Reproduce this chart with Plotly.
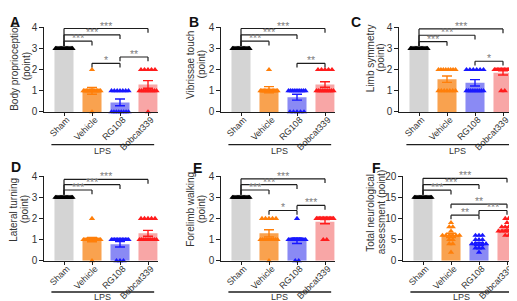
import numpy as np
import plotly.graph_objects as go

W, H = 517, 301
groups = ["Sham", "Vehicle", "RG108", "Bobcat339"]
bar_colors = ["#d4d4d4", "#f9a24f", "#8a8af4", "#f8a6a6"]
pt_colors = ["#000000", "#ff7f0a", "#1818ff", "#ff1c1c"]

# ---------- A: Body proprioception ----------
A_mean = [3.0, 1.0, 0.45, 1.3]
A_sem = [0.0, 0.16, 0.16, 0.18]
A_sham = [3, 3, 3, 3, 3, 3, 3, 3, 3, 3, 3, 3, 3, 3, 3]
A_vehicle = [2, 1, 1, 1, 1, 1, 1, 1, 1, 1, 1, 1, 1, 1, 0]
A_rg108 = [1, 1, 1, 1, 1, 1, 1, 0, 0, 0, 0, 0, 0, 0, 0]
A_bobcat = [2, 2, 2, 2, 2, 1, 1, 1, 1, 1, 1, 1, 1, 1, 0]
A_sig = [(0, 3, 3.95, "***"), (0, 2, 3.65, "***"), (0, 1, 3.35, "***"),
         (1, 2, 2.3, "*"), (2, 3, 2.6, "**")]

# ---------- B: Vibrissae touch ----------
B_mean = [3.0, 1.05, 0.7, 1.3]
B_sem = [0.0, 0.15, 0.14, 0.13]
B_sham = [3, 3, 3, 3, 3, 3, 3, 3, 3, 3, 3, 3, 3, 3, 3]
B_vehicle = [2, 1, 1, 1, 1, 1, 1, 1, 1, 1, 1, 1, 1, 1, 1]
B_rg108 = [1, 1, 1, 1, 1, 1, 1, 1, 1, 1, 0, 0, 0, 0, 0]
B_bobcat = [2, 2, 2, 2, 2, 1, 1, 1, 1, 1, 1, 1, 1, 1, 1]
B_sig = [(0, 3, 3.95, "***"), (0, 2, 3.65, "***"), (0, 1, 3.35, "***"),
         (2, 3, 2.3, "**")]

# ---------- C: Limb symmetry ----------
C_mean = [3.0, 1.55, 1.38, 1.85]
C_sem = [0.0, 0.15, 0.15, 0.1]
C_sham = [3, 3, 3, 3, 3, 3, 3, 3, 3, 3, 3, 3, 3, 3, 3]
C_vehicle = [2, 2, 2, 2, 2, 2, 2, 2, 1, 1, 1, 1, 1, 1, 1]
C_rg108 = [2, 2, 2, 2, 2, 2, 1, 1, 1, 1, 1, 1, 1, 1, 1]
C_bobcat = [2, 2, 2, 2, 2, 2, 2, 2, 2, 2, 2, 2, 2, 1, 1]
C_sig = [(0, 3, 3.93, "***"), (0, 2, 3.63, "***"), (0, 1, 3.33, "***"),
         (2, 3, 2.4, "*")]

# ---------- D: Lateral turning ----------
D_mean = [3.0, 1.0, 0.78, 1.3]
D_sem = [0.0, 0.1, 0.13, 0.14]
D_sham = [3, 3, 3, 3, 3, 3, 3, 3, 3, 3, 3, 3, 3, 3, 3]
D_vehicle = [2, 1, 1, 1, 1, 1, 1, 1, 1, 1, 1, 1, 1, 1, 0]
D_rg108 = [1, 1, 1, 1, 1, 1, 1, 1, 1, 1, 1, 1, 0, 0, 0]
D_bobcat = [2, 2, 2, 2, 2, 1, 1, 1, 1, 1, 1, 1, 1, 1, 1]
D_sig = [(0, 3, 3.85, "***"), (0, 2, 3.6, "***"), (0, 1, 3.35, "***")]

# ---------- E: Forelimb walking ----------
E_mean = [3.0, 1.3, 0.95, 1.85]
E_sem = [0.0, 0.17, 0.13, 0.1]
E_sham = [3, 3, 3, 3, 3, 3, 3, 3, 3, 3, 3, 3, 3, 3, 3]
E_vehicle = [2, 2, 2, 2, 2, 1, 1, 1, 1, 1, 1, 1, 1, 1, 0]
E_rg108 = [2, 1, 1, 1, 1, 1, 1, 1, 1, 1, 1, 1, 1, 0, 0]
E_bobcat = [2, 2, 2, 2, 2, 2, 2, 2, 2, 2, 2, 2, 2, 1, 1]
E_sig = [(0, 3, 3.88, "***"), (0, 2, 3.6, "***"), (0, 1, 3.35, "***"),
         (1, 2, 2.38, "*"), (2, 3, 2.62, "***")]

# ---------- F: Total neurological assessment ----------
F_mean = [15.0, 6.0, 4.0, 7.6]
F_sem = [0.0, 0.5, 0.35, 0.35]
F_sham = [15, 15, 15, 15, 15, 15, 15, 15, 15, 15, 15, 15, 15, 15, 15]
F_vehicle = [9, 8, 8, 7, 6, 6, 6, 6, 6, 6, 5, 5, 4, 4, 2]
F_rg108 = [6, 6, 6, 5, 5, 5, 4, 4, 4, 4, 4, 3, 3, 3, 2]
F_bobcat = [10, 10, 9, 8, 8, 8, 8, 7, 7, 7, 7, 7, 7, 6, 6]
F_sig = [(0, 3, 19.5, "***"), (0, 2, 18.0, "***"), (0, 1, 16.7, "***"),
         (1, 3, 13.4, "**"), (2, 3, 11.9, "***"), (1, 2, 10.8, "**")]

panels = [
    dict(letter="A", t1="Body proprioception", t2="(point)", sham=56, top=14, bot=102,
         ymax=4, dt=1, mean=A_mean, sem=A_sem, pts=[A_sham, A_vehicle, A_rg108, A_bobcat],
         sig=A_sig, lab=(7, 8), tx=(7, 18.5), ty=55, lps=136, lpst=149),
    dict(letter="B", t1="Vibrissae touch", t2="(point)", sham=233, top=14, bot=102,
         ymax=4, dt=1, mean=B_mean, sem=B_sem, pts=[B_sham, B_vehicle, B_rg108, B_bobcat],
         sig=B_sig, lab=(186, 8), tx=(183, 193.5), ty=53, lps=136, lpst=149),
    dict(letter="C", t1="Limb symmetry", t2="(point)", sham=411, top=14, bot=102,
         ymax=4, dt=1, mean=C_mean, sem=C_sem, pts=[C_sham, C_vehicle, C_rg108, C_bobcat],
         sig=C_sig, lab=(348, 8), tx=(362, 372.5), ty=46, lps=136, lpst=149),
    dict(letter="D", t1="Lateral turning", t2="(point)", sham=56, top=169, bot=257,
         ymax=4, dt=1, mean=D_mean, sem=D_sem, pts=[D_sham, D_vehicle, D_rg108, D_bobcat],
         sig=D_sig, lab=(8, 159), tx=(6, 16.5), ty=204, lps=289.5, lpst=301),
    dict(letter="E", t1="Forelimb walking", t2="(point)", sham=233, top=169, bot=257,
         ymax=4, dt=1, mean=E_mean, sem=E_sem, pts=[E_sham, E_vehicle, E_rg108, E_bobcat],
         sig=E_sig, lab=(189, 160), tx=(183, 193.5), ty=204, lps=289.5, lpst=301),
    dict(letter="F", t1="Total neurological", t2="assessment (point)", sham=415, top=169, bot=257,
         ymax=20, dt=5, mean=F_mean, sem=F_sem, pts=[F_sham, F_vehicle, F_rg108, F_bobcat],
         sig=F_sig, lab=(368, 160), tx=(363, 373.5), ty=207, lps=289.5, lpst=301),
]

PXU = 28.0
XR = [-0.7, 3.35]
FONT = "Liberation Sans, Arial, sans-serif"
TXT = "#333333"
LINE = "#1e1e1e"


def spread(vals):
    vals = np.asarray(vals, dtype=float)
    out = np.zeros(len(vals))
    for v in np.unique(vals):
        idx = np.where(vals == v)[0]
        n = len(idx)
        if n > 1:
            w = min((n - 1) * 3.5, 17.0) / PXU
            out[idx] = np.linspace(-w / 2, w / 2, n)
    return out


fig = go.Figure()
shapes = []
annotations = []
layout = {}

for k, p in enumerate(panels):
    n = k + 1
    xs = "x" if n == 1 else f"x{n}"
    ys = "y" if n == 1 else f"y{n}"
    xa = "xaxis" if n == 1 else f"xaxis{n}"
    ya = "yaxis" if n == 1 else f"yaxis{n}"

    fig.add_trace(go.Bar(x=[0, 1, 2, 3], y=p["mean"], width=0.68,
                         marker=dict(color=bar_colors, line=dict(width=0)),
                         xaxis=xs, yaxis=ys, showlegend=False, hoverinfo="skip"))
    for g in range(4):
        vals = p["pts"][g]
        fig.add_trace(go.Scatter(x=g + spread(vals), y=vals, mode="markers",
                                 marker=dict(symbol="triangle-up", size=5.5, color=pt_colors[g],
                                             line=dict(width=0)),
                                 cliponaxis=False, xaxis=xs, yaxis=ys, showlegend=False,
                                 hoverinfo="skip"))
    for g in range(1, 4):
        fig.add_trace(go.Scatter(x=[g], y=[p["mean"][g]], mode="markers",
                                 marker=dict(size=1, opacity=0),
                                 error_y=dict(type="data", array=[p["sem"][g]], visible=True,
                                              color=pt_colors[g], thickness=1.4, width=5),
                                 cliponaxis=False, xaxis=xs, yaxis=ys, showlegend=False,
                                 hoverinfo="skip"))

    x0 = (p["sham"] - 0.7 * PXU) / W
    x1 = (p["sham"] + 3.35 * PXU) / W
    layout[xa] = dict(domain=[x0, x1], range=XR, anchor=ys, tickmode="array",
                      tickvals=[0, 1, 2, 3], ticktext=groups, tickangle=-45,
                      ticks="outside", ticklen=3, tickwidth=1, tickcolor=LINE,
                      ticklabelstandoff=-5, ticklabelshift=3,
                      showline=True, linecolor=LINE, linewidth=1.3, showgrid=False,
                      zeroline=False, tickfont=dict(size=9, color=TXT, family=FONT),
                      fixedrange=True)
    layout[ya] = dict(domain=[1 - p["bot"] / H, 1 - p["top"] / H], range=[0, p["ymax"]],
                      anchor=xs, tickmode="linear", tick0=0, dtick=p["dt"],
                      ticks="outside", ticklen=4, tickwidth=1, tickcolor=LINE,
                      showline=True, linecolor=LINE, linewidth=1.3, showgrid=False,
                      zeroline=False, tickfont=dict(size=10, color=TXT, family=FONT),
                      fixedrange=True)

    # significance brackets
    leg = 0.05 * p["ymax"]
    sham_leg = p["mean"][0] + 0.03 * p["ymax"]
    for (i, j, yv, lab) in p["sig"]:
        lb = sham_leg if i == 0 else yv - leg
        shapes.append(dict(type="line", xref=xs, yref=ys, x0=i, x1=j, y0=yv, y1=yv,
                           line=dict(color=LINE, width=1.2)))
        shapes.append(dict(type="line", xref=xs, yref=ys, x0=i, x1=i, y0=lb, y1=yv,
                           line=dict(color=LINE, width=1.2)))
        shapes.append(dict(type="line", xref=xs, yref=ys, x0=j, x1=j, y0=yv - leg, y1=yv,
                           line=dict(color=LINE, width=1.2)))
        annotations.append(dict(text=lab, xref=xs, yref=ys, x=(i + j) / 2, y=yv,
                                yanchor="middle", xanchor="center", yshift=3, showarrow=False,
                                font=dict(size=10.5, color="#808080", family=FONT)))

    # LPS line and label (label box bottom at lpst)
    shapes.append(dict(type="line", xref=xs, yref="paper", x0=-0.45, x1=3.22,
                       y0=1 - p["lps"] / H, y1=1 - p["lps"] / H,
                       line=dict(color=LINE, width=1.4)))
    annotations.append(dict(text="LPS", xref=xs, yref="paper", x=(-0.45 + 3.22) / 2,
                            y=1 - p["lpst"] / H, yanchor="bottom", xanchor="center",
                            borderpad=0, showarrow=False,
                            font=dict(size=9, color=TXT, family=FONT)))

    # y-axis titles
    for txt, tx in ((p["t1"], p["tx"][0]), (p["t2"], p["tx"][1])):
        annotations.append(dict(text=txt, xref="paper", yref="paper", x=tx / W,
                                y=1 - p["ty"] / H, textangle=-90, xanchor="center",
                                yanchor="middle", showarrow=False,
                                font=dict(size=10, color=TXT, family=FONT)))
    # panel letter
    annotations.append(dict(text="<b>%s</b>" % p["letter"], xref="paper", yref="paper",
                            x=p["lab"][0] / W, y=1 - p["lab"][1] / H, xanchor="center",
                            yanchor="middle", showarrow=False,
                            font=dict(size=14, color="#111111", family=FONT)))

fig.update_layout(width=W, height=H, margin=dict(l=0, r=0, t=0, b=0),
                  paper_bgcolor="white", plot_bgcolor="white", showlegend=False,
                  shapes=shapes, annotations=annotations, font=dict(family=FONT), **layout)

fig.write_html("out.html")
